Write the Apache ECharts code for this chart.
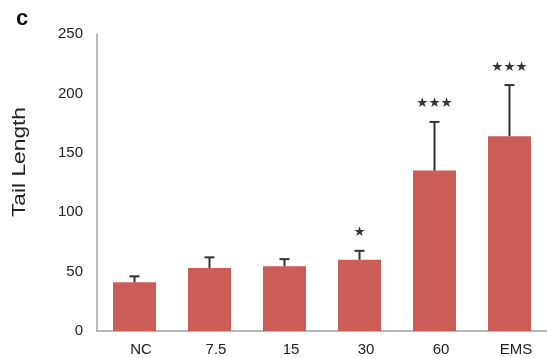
<!DOCTYPE html>
<html><head><meta charset="utf-8">
<script src="https://cdn.jsdelivr.net/npm/echarts@6/dist/echarts.min.js"></script>
<style>html,body{margin:0;padding:0;background:#fff}#c{width:547px;height:358px}</style>
</head><body><div id="c"></div>
<script>
var categories = ['NC', '7.5', '15', '30', '60', 'EMS'];
var means = [41, 53, 54.5, 60, 135, 164];
var errTops = [46, 62, 60.5, 67.5, 176, 207];
var marks = ['', '', '', '★', '★★★', '★★★'];
var yTicks = [0, 50, 100, 150, 200, 250];

var chart = echarts.init(document.getElementById('c'));
var errData = categories.map(function (c, i) { return [i, means[i], errTops[i]]; });
chart.setOption({
  animation: false,
  graphic: [
    {type: 'text', left: 16, top: 8, style: {text: 'c', font: 'bold 22px Liberation Sans', fill: '#111'}},
    {type: 'text', x: 20, y: 162, rotation: Math.PI / 2, scaleX: 1.3,
     style: {text: 'Tail Length', font: '17.5px Liberation Sans', fill: '#222', align: 'center', verticalAlign: 'middle'}}
  ],
  grid: {left: 97, top: 34, width: 453, height: 297},
  xAxis: {
    type: 'category', data: categories,
    axisLine: {lineStyle: {color: '#a0a0a0', width: 1.5}},
    axisTick: {show: false},
    axisLabel: {color: '#222', fontSize: 15, fontFamily: 'Liberation Sans', margin: 11, padding: [0, 0, 0, 13]}
  },
  yAxis: {
    type: 'value', min: yTicks[0], max: yTicks[yTicks.length - 1], interval: 50,
    axisLine: {show: true, lineStyle: {color: '#a0a0a0', width: 1.5}},
    axisTick: {show: false}, splitLine: {show: false},
    axisLabel: {color: '#222', fontSize: 15, fontFamily: 'Liberation Sans', margin: 14}
  },
  series: [{
    type: 'bar', data: means, barWidth: 43,
    itemStyle: {color: '#cc5c57'}
  }, {
    type: 'custom', data: errData, z: 5,
    renderItem: function (params, api) {
      var x = api.value(0);
      var base = api.coord([x, api.value(1)]);
      var top = api.coord([x, api.value(2)]);
      var children = [
        {type: 'line', shape: {x1: base[0], y1: base[1], x2: top[0], y2: top[1]}, style: {stroke: '#333', lineWidth: 2}},
        {type: 'line', shape: {x1: top[0] - 5, y1: top[1], x2: top[0] + 5, y2: top[1]}, style: {stroke: '#333', lineWidth: 2}}
      ];
      var m = marks[params.dataIndex];
      if (m) {
        children.push({type: 'text', style: {text: m, x: top[0], y: top[1] - 18, align: 'center', verticalAlign: 'middle', font: '13.5px DejaVu Sans', fill: '#333'}});
      }
      return {type: 'group', children: children};
    }
  }]
});
</script></body></html>
